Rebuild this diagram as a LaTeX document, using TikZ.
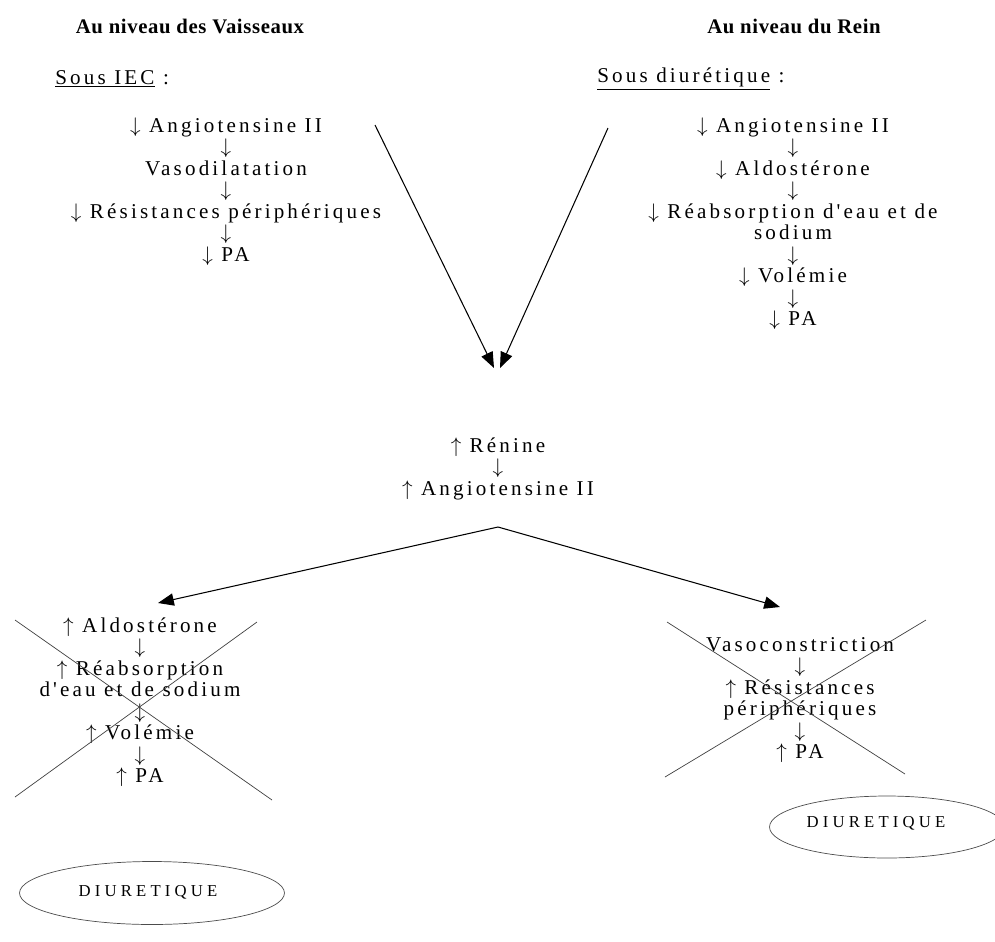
\documentclass[tikz,border=0pt]{standalone}
\usepackage{fontspec}
\setmainfont{Liberation Serif}
\newfontfamily\espace[LetterSpace=15]{Liberation Serif}
\newfontfamily\etire[LetterSpace=25]{Liberation Serif}
\newfontfamily\titre[LetterSpace=3]{Liberation Serif}
\usetikzlibrary{arrows.meta,positioning,shapes.geometric}

\tikzset{
  bloc/.style={align=center, inner sep=0pt, anchor=north,
    font=\espace\fontsize{12pt}{12.24pt}\selectfont},
  entete/.style={inner sep=0pt, font=\titre\bfseries\fontsize{11.8pt}{12.24pt}\selectfont},
  sous/.style={inner sep=0pt, anchor=west, font=\espace\fontsize{12pt}{12.24pt}\selectfont},
  fleche/.style={-{Triangle[length=9pt,width=7pt]}, semithick},
  barre/.style={black!75, thin},
  bulle/.style={draw=black!70, thin, ellipse, inner sep=0pt},
  diu/.style={inner sep=0pt, font=\etire\fontsize{9.5pt}{11pt}\selectfont}
}

\begin{document}
\begin{tikzpicture}[x=0.02cm, y=-0.02cm]
  \useasboundingbox (0,0) rectangle (995,941);

  % titres
  \node[entete] (vaiss) at (190,26) {Au niveau des Vaisseaux};
  \node[entete] (rein) at (794,26) {Au niveau du Rein};
  \node[sous] (iec) at (55,79) {\underline{Sous IEC} :};
  \node[sous] (diur) at (597,79) {\underline{Sous diurétique} :};

  % colonnes du haut
  \node[bloc] (gauche) at (226,117) {$\downarrow$ Angiotensine II\\ $\downarrow$\\ Vasodilatation\\ $\downarrow$\\
    $\downarrow$ Résistances périphériques\\ $\downarrow$\\ $\downarrow$ PA};
  \node[bloc] (droite) at (793,117) {$\downarrow$ Angiotensine II\\ $\downarrow$\\ $\downarrow$ Aldostérone\\ $\downarrow$\\
    $\downarrow$ Réabsorption d'eau et de\\ sodium\\ $\downarrow$\\ $\downarrow$ Volémie\\ $\downarrow$\\ $\downarrow$ PA};

  % centre
  \coordinate (vg) at (375,125);
  \coordinate (vd) at (608,128);
  \coordinate (pg) at (494,368);
  \coordinate (pd) at (500,368);
  \draw[fleche] (vg) -- (pg);
  \draw[fleche] (vd) -- (pd);

  \node[bloc] (renine) at (498,437) {$\uparrow$ Rénine\\ $\downarrow$\\ $\uparrow$ Angiotensine II};

  \coordinate (fourche) at (498,527);
  \coordinate (cg) at (158,603);
  \coordinate (cd) at (780,607);
  \draw[fleche] (fourche) -- (cg);
  \draw[fleche] (fourche) -- (cd);

  % blocs barres
  \node[bloc] (aldo) at (140,617) {$\uparrow$ Aldostérone\\ $\downarrow$\\ $\uparrow$ Réabsorption\\ d'eau et de sodium\\
    $\downarrow$\\ $\uparrow$ Volémie\\ $\downarrow$\\ $\uparrow$ PA};
  \draw[barre] (15,620) -- (272,800);
  \draw[barre] (15,797) -- (257,622);

  \node[bloc] (vasoc) at (800,637) {Vasoconstriction\\ $\downarrow$\\ $\uparrow$ Résistances\\ périphériques\\ $\downarrow$\\ $\uparrow$ PA};
  \draw[barre] (667,622) -- (905,774);
  \draw[barre] (665,777) -- (926,620);

  % diuretiques
  \node[bulle, minimum width=4.7cm, minimum height=1.24cm] (ovd) at (887,827) {};
  \node[diu] (diud) at (876,823) {DIURETIQUE};
  \node[bulle, minimum width=5.3cm, minimum height=1.26cm] (ovg) at (152,893) {};
  \node[diu] (diug) at (148,892) {DIURETIQUE};
\end{tikzpicture}
\end{document}
